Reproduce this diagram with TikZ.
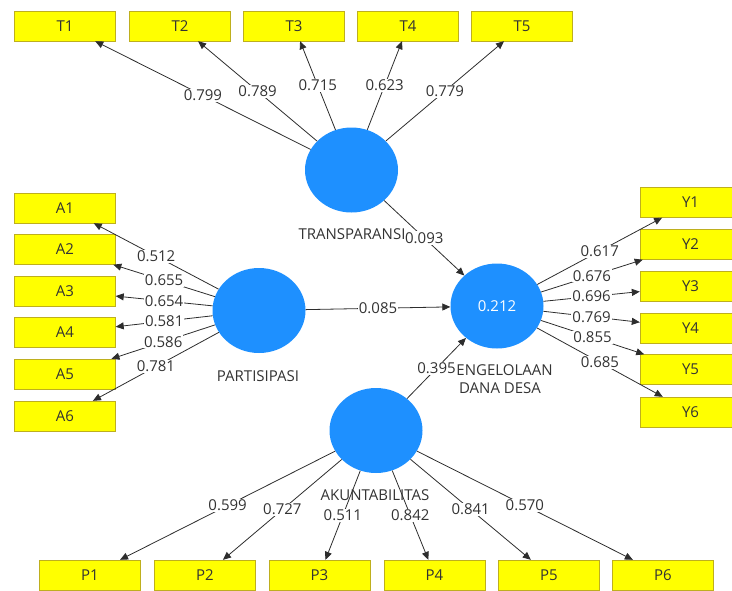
\documentclass[tikz,border=0pt]{standalone}
\usepackage{fontspec}
\setmainfont{Open Sans}
\usetikzlibrary{arrows.meta,shapes.geometric}
\definecolor{lvblue}{RGB}{30,144,255}
\definecolor{boxyellow}{RGB}{255,255,0}
\definecolor{boxedge}{RGB}{190,175,30}
\definecolor{pathgray}{RGB}{45,45,45}
\begin{document}
\begin{tikzpicture}[x=1pt, y=-1pt, font=\fontsize{15}{18}\selectfont, text=black!80,
  ind/.style={draw=boxedge, fill=boxyellow, minimum width=101pt, minimum height=30pt, inner sep=0pt},
  lat/.style={ellipse, fill=lvblue, minimum width=93pt, minimum height=85pt, inner sep=0pt},
  load/.style={draw=pathgray, line width=0.8pt, -{Triangle[length=8pt,width=7pt]}},
  val/.style={fill=white, inner sep=1pt}]
  \useasboundingbox (0,0) rectangle (732,590);
  % latent variables
  \node[lat] (trans) at (351.5,170) {};
  \node[lat] (part) at (259,310.5) {};
  \node[lat, text=white] (peng) at (497,306) {0.212};
  \node[lat] (akun) at (376,430.5) {};
  \node (transname) at (352,234) {TRANSPARANSI};
  \node (partname) at (258,376) {PARTISIPASI};
  \node[align=center] (pengname) at (500,379) {PENGELOLAAN\\DANA DESA};
  \node (akunname) at (375,495) {AKUNTABILITAS};
  % indicators
  \node[ind] (t1) at (65,26) {T1};
  \node[ind] (t2) at (180,26) {T2};
  \node[ind] (t3) at (294,26) {T3};
  \node[ind] (t4) at (408,26) {T4};
  \node[ind] (t5) at (522,26) {T5};
  \node[ind] (a1) at (65,208) {A1};
  \node[ind] (a2) at (65,249.5) {A2};
  \node[ind] (a3) at (65,291) {A3};
  \node[ind] (a4) at (65,332.5) {A4};
  \node[ind] (a5) at (65,374) {A5};
  \node[ind] (a6) at (65,416) {A6};
  \node[ind] (y1) at (690.5,202.5) {Y1};
  \node[ind] (y2) at (690.5,244.5) {Y2};
  \node[ind] (y3) at (690.5,286.5) {Y3};
  \node[ind] (y4) at (690.5,328) {Y4};
  \node[ind] (y5) at (690.5,369.5) {Y5};
  \node[ind] (y6) at (690.5,412) {Y6};
  \node[ind] (p1) at (90,575) {P1};
  \node[ind] (p2) at (205,575) {P2};
  \node[ind] (p3) at (319.5,575) {P3};
  \node[ind] (p4) at (434.5,575) {P4};
  \node[ind] (p5) at (549,575) {P5};
  \node[ind] (p6) at (663,575) {P6};
  % outer loadings
  \draw[load] (trans) -- node[val] {0.799} (t1);
  \draw[load] (trans) -- node[val] {0.789} (t2);
  \draw[load] (trans) -- node[val] {0.715} (t3);
  \draw[load] (trans) -- node[val] {0.623} (t4);
  \draw[load] (trans) -- node[val] {0.779} (t5);
  \draw[load] (part) -- node[val] {0.512} (a1);
  \draw[load] (part) -- node[val] {0.655} (a2);
  \draw[load] (part) -- node[val] {0.654} (a3);
  \draw[load] (part) -- node[val] {0.581} (a4);
  \draw[load] (part) -- node[val] {0.586} (a5);
  \draw[load] (part) -- node[val] {0.781} (a6);
  \draw[load] (peng) -- node[val] {0.617} (y1);
  \draw[load] (peng) -- node[val] {0.676} (y2);
  \draw[load] (peng) -- node[val] {0.696} (y3);
  \draw[load] (peng) -- node[val] {0.769} (y4);
  \draw[load] (peng) -- node[val] {0.855} (y5);
  \draw[load] (peng) -- node[val] {0.685} (y6);
  \draw[load] (akun) -- node[val] {0.599} (p1);
  \draw[load] (akun) -- node[val] {0.727} (p2);
  \draw[load] (akun) -- node[val] {0.511} (p3);
  \draw[load] (akun) -- node[val] {0.842} (p4);
  \draw[load] (akun) -- node[val] {0.841} (p5);
  \draw[load] (akun) -- node[val] {0.570} (p6);
  % path coefficients
  \draw[load] (trans) -- node[val] {0.093} (peng);
  \draw[load] (part) -- node[val] {0.085} (peng);
  \draw[load] (akun) -- node[val] {0.395} (peng);
\end{tikzpicture}
\end{document}
